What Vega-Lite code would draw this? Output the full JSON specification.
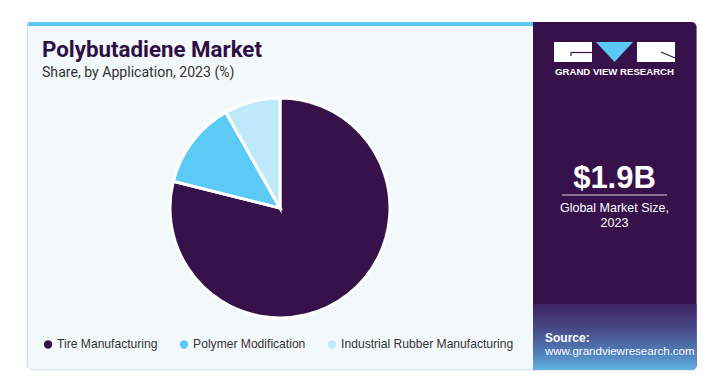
{
  "$schema": "https://vega.github.io/schema/vega-lite/v6.json",
  "width": 715,
  "height": 381,
  "autosize": {"type": "fit", "contains": "padding"},
  "padding": 0,
  "background": "white",
  "config": {
    "view": {"stroke": null},
    "legend": {
      "orient": "none",
      "legendX": 42,
      "legendY": 338,
      "direction": "horizontal",
      "symbolType": "circle",
      "symbolSize": 70,
      "symbolStrokeWidth": 0,
      "labelFont": "Liberation Sans",
      "labelFontSize": 12.1,
      "labelColor": "#333333",
      "labelOffset": 3,
      "labelLimit": 300,
      "columnPadding": 20,
      "title": null
    }
  },
  "data": {
    "values": [
      {"application": "Tire Manufacturing", "share": 78.9},
      {"application": "Polymer Modification", "share": 12.9},
      {"application": "Industrial Rubber Manufacturing", "share": 8.2}
    ]
  },
  "layer": [
    {
      "data": {"values": [{}]},
      "mark": {"type": "rect", "fill": "#F3F8FB", "stroke": "#D5DCE2", "strokeWidth": 1, "cornerRadius": 5},
      "encoding": {
        "x": {"datum": 27.5, "type": "quantitative", "scale": {"domain": [0, 715], "nice": false, "zero": false}, "axis": null},
        "x2": {"datum": 696.5},
        "y": {"datum": 22.5, "type": "quantitative", "scale": {"domain": [0, 381], "nice": false, "zero": false, "reverse": true}, "axis": null},
        "y2": {"datum": 370}
      }
    },
    {
      "data": {"values": [{}]},
      "mark": {"type": "rect", "fill": "#5BC8F5", "cornerRadiusTopLeft": 4},
      "encoding": {
        "x": {"datum": 27.5, "type": "quantitative"},
        "x2": {"datum": 533},
        "y": {"datum": 22, "type": "quantitative"},
        "y2": {"datum": 26}
      }
    },
    {
      "data": {"values": [{}]},
      "mark": {"type": "rect", "fill": "#36114A", "cornerRadiusTopRight": 5, "cornerRadiusBottomRight": 5},
      "encoding": {
        "x": {"datum": 533, "type": "quantitative"},
        "x2": {"datum": 696.5},
        "y": {"datum": 22, "type": "quantitative"},
        "y2": {"datum": 370}
      }
    },
    {
      "data": {"values": [{}]},
      "mark": {
        "type": "rect",
        "cornerRadiusBottomRight": 5,
        "fill": {
          "gradient": "linear", "x1": 0, "y1": 0, "x2": 0, "y2": 1,
          "stops": [
            {"offset": 0, "color": "#3E2264"},
            {"offset": 0.4, "color": "#484C8A"},
            {"offset": 0.75, "color": "#5080BA"},
            {"offset": 1, "color": "#62B4E2"}
          ]
        }
      },
      "encoding": {
        "x": {"datum": 533, "type": "quantitative"},
        "x2": {"datum": 696.5},
        "y": {"datum": 304, "type": "quantitative"},
        "y2": {"datum": 370}
      }
    },
    {
      "data": {"values": [{}]},
      "mark": {"type": "rect", "fill": "white"},
      "encoding": {
        "x": {"datum": 554, "type": "quantitative"},
        "x2": {"datum": 592},
        "y": {"datum": 42, "type": "quantitative"},
        "y2": {"datum": 62}
      }
    },
    {
      "data": {"values": [{}]},
      "mark": {"type": "rect", "fill": "white"},
      "encoding": {
        "x": {"datum": 637, "type": "quantitative"},
        "x2": {"datum": 675},
        "y": {"datum": 42, "type": "quantitative"},
        "y2": {"datum": 62}
      }
    },
    {
      "data": {"values": [{}]},
      "mark": {"type": "point", "filled": true, "fill": "#5BC8F5", "strokeWidth": 0, "opacity": 1, "shape": "M-1,-0.54L1,-0.54L0,0.54Z", "size": 1369},
      "encoding": {
        "x": {"datum": 614.5, "type": "quantitative"},
        "y": {"datum": 52, "type": "quantitative"}
      }
    },
    {
      "data": {"values": [{}]},
      "mark": {"type": "rule", "stroke": "#36114A", "strokeWidth": 1.2},
      "encoding": {
        "x": {"datum": 571, "type": "quantitative"},
        "x2": {"datum": 592},
        "y": {"datum": 52.5, "type": "quantitative"}
      }
    },
    {
      "data": {"values": [{}]},
      "mark": {"type": "rule", "stroke": "#36114A", "strokeWidth": 1.2},
      "encoding": {
        "x": {"datum": 571, "type": "quantitative"},
        "y": {"datum": 52.5, "type": "quantitative"},
        "y2": {"datum": 56}
      }
    },
    {
      "data": {"values": [{}]},
      "mark": {"type": "rule", "stroke": "#36114A", "strokeWidth": 1.2},
      "encoding": {
        "x": {"datum": 661, "type": "quantitative"},
        "x2": {"datum": 675},
        "y": {"datum": 52, "type": "quantitative"},
        "y2": {"datum": 58}
      }
    },
    {
      "data": {"values": [{}]},
      "mark": {"type": "text", "text": "GRAND VIEW RESEARCH", "font": "Liberation Sans", "fontWeight": "bold", "fontSize": 9.6, "fill": "white", "align": "center", "baseline": "alphabetic"},
      "encoding": {
        "x": {"datum": 614.5, "type": "quantitative"},
        "y": {"datum": 75, "type": "quantitative"}
      }
    },
    {
      "data": {"values": [{}]},
      "mark": {"type": "text", "text": "$1.9B", "font": "Liberation Sans", "fontWeight": "bold", "fontSize": 31, "fill": "white", "align": "center", "baseline": "alphabetic"},
      "encoding": {
        "x": {"datum": 614.5, "type": "quantitative"},
        "y": {"datum": 188, "type": "quantitative"}
      }
    },
    {
      "data": {"values": [{}]},
      "mark": {"type": "rule", "stroke": "#D8D0DE", "strokeWidth": 1},
      "encoding": {
        "x": {"datum": 562, "type": "quantitative"},
        "x2": {"datum": 667},
        "y": {"datum": 195, "type": "quantitative"}
      }
    },
    {
      "data": {"values": [{}]},
      "mark": {"type": "text", "text": ["Global Market Size,", "2023"], "lineHeight": 15, "font": "Liberation Sans", "fontSize": 12.5, "fill": "white", "align": "center", "baseline": "alphabetic"},
      "encoding": {
        "x": {"datum": 614.5, "type": "quantitative"},
        "y": {"datum": 212, "type": "quantitative"}
      }
    },
    {
      "data": {"values": [{}]},
      "mark": {"type": "text", "text": "Source:", "font": "Liberation Sans", "fontWeight": "bold", "fontSize": 12, "fill": "white", "align": "left", "baseline": "alphabetic"},
      "encoding": {
        "x": {"datum": 545, "type": "quantitative"},
        "y": {"datum": 342, "type": "quantitative"}
      }
    },
    {
      "data": {"values": [{}]},
      "mark": {"type": "text", "text": "www.grandviewresearch.com", "font": "Liberation Sans", "fontSize": 11.5, "fill": "white", "align": "left", "baseline": "alphabetic"},
      "encoding": {
        "x": {"datum": 545, "type": "quantitative"},
        "y": {"datum": 355, "type": "quantitative"}
      }
    },
    {
      "data": {"values": [{}]},
      "mark": {"type": "text", "text": "Polybutadiene Market", "font": "Roboto", "fontWeight": "bold", "fontSize": 22.3, "fill": "#2E0F45", "align": "left", "baseline": "alphabetic"},
      "encoding": {
        "x": {"datum": 42, "type": "quantitative"},
        "y": {"datum": 57, "type": "quantitative"}
      }
    },
    {
      "data": {"values": [{}]},
      "mark": {"type": "text", "text": "Share, by Application, 2023 (%)", "font": "Roboto", "fontSize": 14.1, "fill": "#333333", "align": "left", "baseline": "alphabetic"},
      "encoding": {
        "x": {"datum": 42, "type": "quantitative"},
        "y": {"datum": 77, "type": "quantitative"}
      }
    },
    {
      "mark": {"type": "arc", "outerRadius": 110, "stroke": "white", "strokeWidth": 3},
      "encoding": {
        "theta": {"field": "share", "type": "quantitative", "stack": true},
        "order": {"field": "application", "sort": "descending"},
        "color": {
          "field": "application",
          "type": "nominal",
          "scale": {
            "domain": ["Tire Manufacturing", "Polymer Modification", "Industrial Rubber Manufacturing"],
            "range": ["#36114A", "#5BCBF5", "#BDE9FA"]
          },
          "legend": {"title": null}
        },
        "x": {"datum": 280, "type": "quantitative"},
        "y": {"datum": 208, "type": "quantitative"}
      }
    }
  ]
}
